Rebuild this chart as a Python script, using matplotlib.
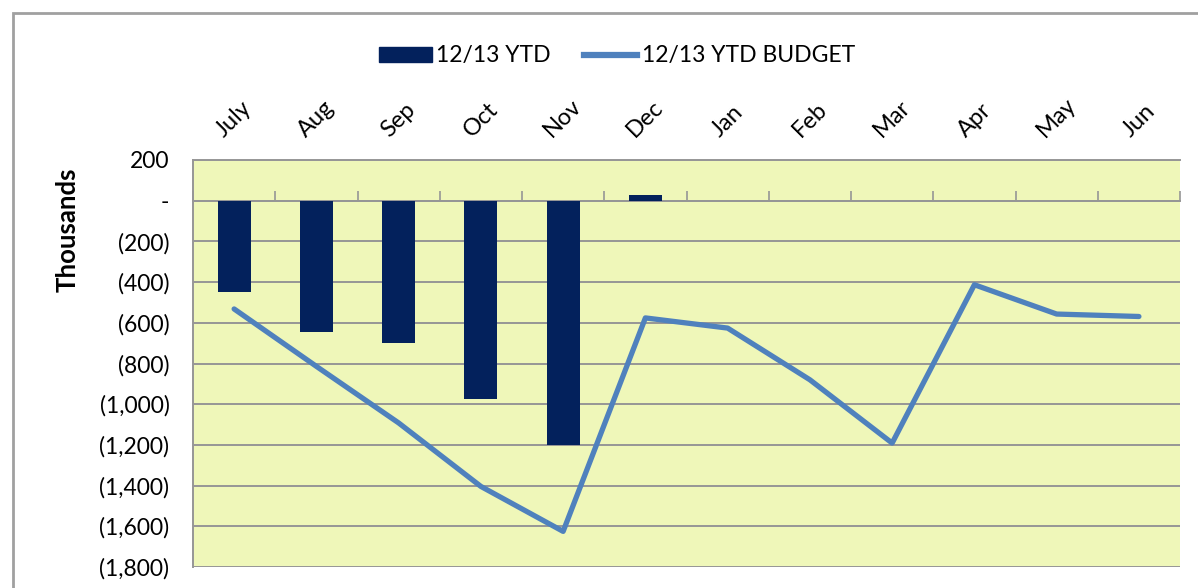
import matplotlib
matplotlib.use("Agg")
import matplotlib.pyplot as plt
from matplotlib.ticker import FuncFormatter, MultipleLocator, FixedLocator
from matplotlib.patches import Rectangle
from matplotlib.lines import Line2D

# data (thousands)
months = ["July", "Aug", "Sep", "Oct", "Nov", "Dec", "Jan", "Feb", "Mar", "Apr", "May", "Jun"]
ytd_actual = [-449, -645, -701, -975, -1202, 29]
ytd_budget = [-532, -814, -1092, -1404, -1625, -576, -626, -880, -1191, -413, -557, -569]

plt.rcParams['font.family'] = ['Lato', 'DejaVu Sans']

fig = plt.figure(figsize=(11.98, 5.88), dpi=100)
ax = fig.add_axes([0.1611, 0.0357, 0.985 - 0.1611, 0.7279 - 0.0357])

bar_color = '#03215c'
line_color = '#4f81bd'
grid_color = '#969696'

ax.set_facecolor('#eff7b9')
x_bar = list(range(len(ytd_actual)))
x_line = list(range(len(ytd_budget)))
ax.bar(x_bar, ytd_actual, width=0.4, color=bar_color, zorder=3)
ax.plot(x_line, ytd_budget, color=line_color, lw=3.8, zorder=4, solid_capstyle='round')

ax.set_xlim(-0.5, len(months) - 0.5)
ax.set_ylim(-1800, 200)
ax.yaxis.set_major_locator(MultipleLocator(200))
ax.yaxis.grid(True, color=grid_color, lw=1.4, zorder=1)
ax.set_axisbelow(True)


def fmt(v, pos):
    if abs(v) < 1e-6:
        return '-'
    if v < 0:
        return '({:,.0f})'.format(-v)
    return '{:,.0f}'.format(v)


ax.yaxis.set_major_formatter(FuncFormatter(fmt))
ax.tick_params(axis='y', length=0, pad=17, labelsize=16.5)

# category axis sits on zero, labels on top
ax.spines['bottom'].set_position(('data', 0))
ax.xaxis.set_major_locator(FixedLocator(x_line))
ax.xaxis.set_minor_locator(FixedLocator([i + 0.5 for i in range(-1, len(months))]))
ax.set_xticks(x_line)
ax.set_xticklabels(months)
ax.tick_params(axis='x', which='major', length=0, bottom=False, top=False,
               labelbottom=False, labeltop=True, labelsize=17, pad=14)
ax.tick_params(axis='x', which='minor', direction='in', length=7, width=1.2,
               color=grid_color, bottom=True, top=False)
for lbl in ax.get_xticklabels():
    lbl.set_rotation(45)
    lbl.set_ha('center')
    lbl.set_va('bottom')

for side in ['left', 'top', 'bottom']:
    ax.spines[side].set_color(grid_color)
    ax.spines[side].set_linewidth(1.4)
ax.spines['right'].set_visible(False)

ax.set_ylabel('Thousands', fontsize=18.5, fontweight='bold')
ax.yaxis.set_label_coords(-0.115, 0.828)

handles = [Rectangle((0, 0), 1, 1, color=bar_color),
           Line2D([0], [0], color=line_color, lw=4.5)]
fig.legend(handles, ['12/13 YTD', '12/13 YTD BUDGET'], loc='center',
           bbox_to_anchor=(0.515, 0.905), ncol=2, frameon=False, fontsize=16.5,
           handlelength=2.3, handleheight=0.6, handletextpad=0.2, columnspacing=1.45)

# outer chart border
fig.patches.append(Rectangle((13 / 1198, -0.1), 1.2, 1 - 13 / 588 + 0.1,
                             transform=fig.transFigure, fill=False,
                             edgecolor='#a0a0a0', lw=2))

fig.savefig('out.png', dpi=100)
